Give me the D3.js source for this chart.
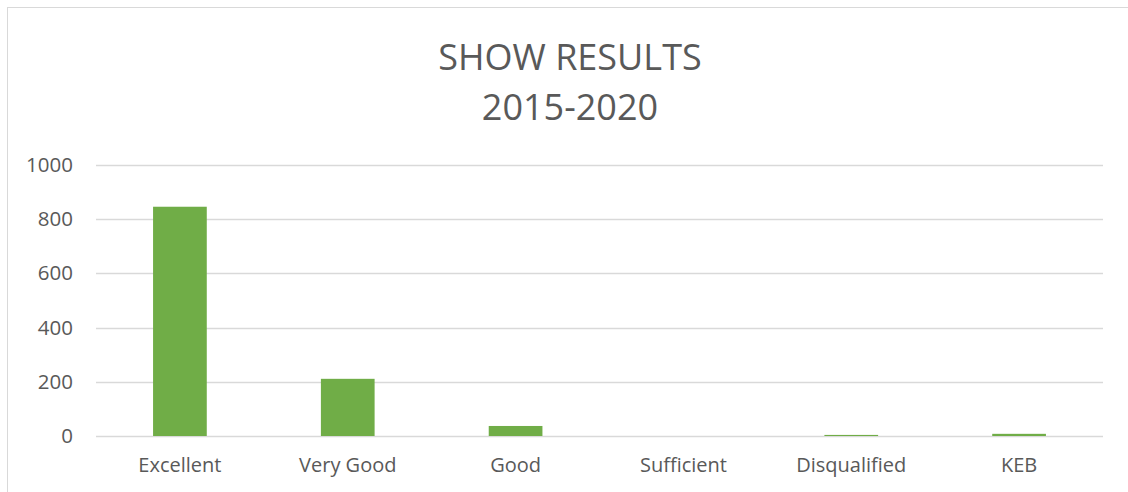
<!DOCTYPE html>
<head>
<meta charset="utf-8">
<script src="https://d3js.org/d3.v7.min.js"></script>
<style>
  body { margin: 0; background: #fff; }
  text { font-family: "Open Sans", sans-serif; fill: #595959; }
</style>
</head>
<body>
<svg id="chart" width="1128" height="492"></svg>
<script>
// data
const categories = ["Excellent", "Very Good", "Good", "Sufficient", "Disqualified", "KEB"];
const counts = [846, 211, 37, 0, 4, 8];
const yTicks = [0, 200, 400, 600, 800, 1000];
const titleLines = ["SHOW RESULTS", "2015-2020"];

const svg = d3.select("#chart");
const plot = {left: 96, right: 1103, top: 165, bottom: 436};

// chart frame (right and bottom edges fall outside the picture)
svg.append("rect")
    .attr("x", 7.5).attr("y", 7.5)
    .attr("width", 1130).attr("height", 500)
    .attr("fill", "#fff")
    .attr("stroke", "#d9d9d9");

const x = d3.scaleBand()
    .domain(categories)
    .range([plot.left, plot.right])
    .paddingInner(0.68)
    .paddingOuter(0.34);

const y = d3.scaleLinear()
    .domain([0, 1000])
    .range([plot.bottom, plot.top]);

// gridlines
svg.append("g").selectAll("line")
    .data(yTicks)
    .enter().append("line")
    .attr("x1", plot.left).attr("x2", plot.right)
    .attr("y1", d => Math.round(y(d)) + 0.5)
    .attr("y2", d => Math.round(y(d)) + 0.5)
    .attr("stroke", "#d9d9d9")
    .attr("stroke-width", 1.3);

// y axis labels
const yAxis = d3.axisLeft(y).tickValues(yTicks).tickFormat(d3.format("d"))
    .tickSize(0).tickPadding(23);
svg.append("g")
    .attr("transform", "translate(" + plot.left + ",0)")
    .call(yAxis)
    .call(g => g.select(".domain").remove())
    .selectAll("text")
    .style("font-size", "20.5px")
    .attr("fill", "#595959");

// bars
svg.append("g").selectAll("rect")
    .data(categories)
    .enter().append("rect")
    .attr("x", d => x(d))
    .attr("width", x.bandwidth())
    .attr("y", (d, i) => y(counts[i]))
    .attr("height", (d, i) => y(0) - y(counts[i]))
    .attr("fill", "#70ad47");

// x axis labels
const xAxis = d3.axisBottom(x).tickSize(0).tickPadding(22);
svg.append("g")
    .attr("transform", "translate(0," + plot.bottom + ")")
    .call(xAxis)
    .call(g => g.select(".domain").remove())
    .selectAll("text")
    .style("font-size", "20px")
    .attr("fill", "#595959");

// title
svg.append("g").selectAll("text")
    .data(titleLines)
    .enter().append("text")
    .attr("x", 570)
    .attr("y", (d, i) => 70 + i * 50)
    .attr("text-anchor", "middle")
    .style("font-size", "36px")
    .text(d => d);
</script>
</body>
